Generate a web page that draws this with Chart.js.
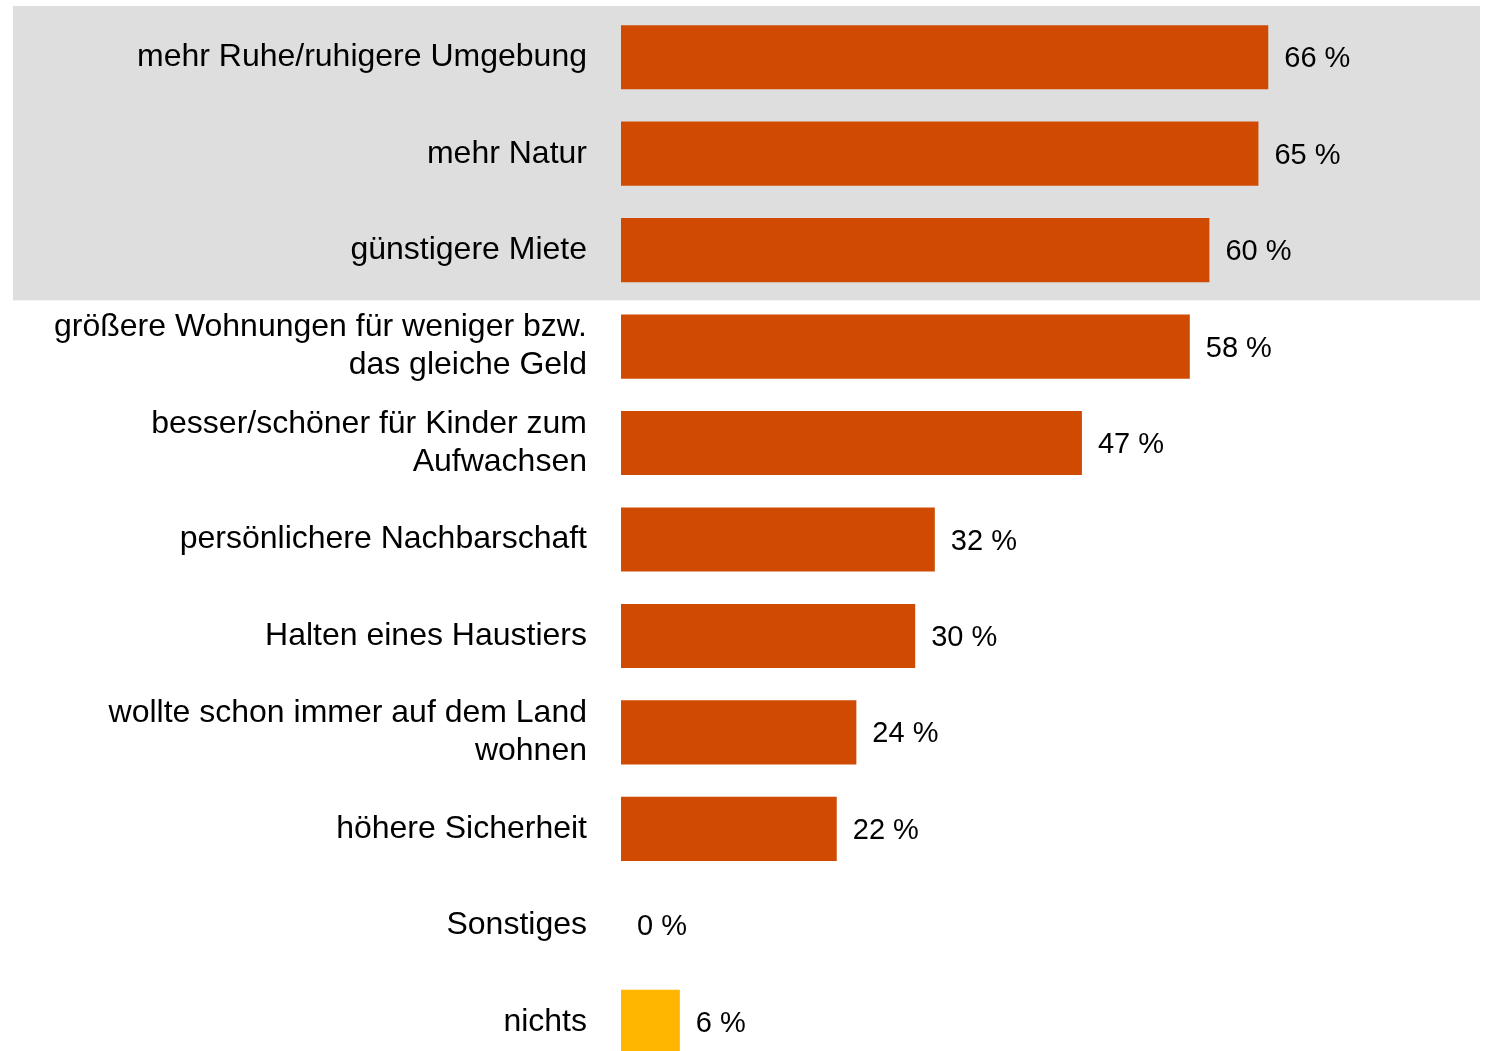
<!DOCTYPE html>
<html lang="de">
<head>
<meta charset="utf-8">
<title>Gründe für das Leben auf dem Land</title>
<script src="https://cdn.jsdelivr.net/npm/chart.js@4.4.1/dist/chart.umd.min.js"></script>
<style>
  html, body { margin: 0; padding: 0; background: #ffffff; overflow: hidden; }
  #wrap { position: relative; width: 1486px; height: 1070px; }
</style>
</head>
<body>
<div id="wrap"><canvas id="reasonsChart"></canvas></div>
<script>
// Answer categories (multi-line ones as arrays)
const categories = [
  'mehr Ruhe/ruhigere Umgebung',
  'mehr Natur',
  'günstigere Miete',
  ['größere Wohnungen für weniger bzw.', 'das gleiche Geld'],
  ['besser/schöner für Kinder zum', 'Aufwachsen'],
  'persönlichere Nachbarschaft',
  'Halten eines Haustiers',
  ['wollte schon immer auf dem Land', 'wohnen'],
  'höhere Sicherheit',
  'Sonstiges',
  'nichts'
];

// Share of respondents in percent
const shares = [66, 65, 60, 58, 47, 32, 30, 24, 22, 0, 6];

// first rows get the grey highlight band
const highlightedRows = 3;

const ORANGE = '#d04a02';
const YELLOW = '#ffb600';
const FONT = '"Liberation Sans", Arial, Helvetica, sans-serif';

const barColors = categories.map(c => (c === 'nichts' ? YELLOW : ORANGE));

// grey band behind the top rows
const highlightBand = {
  id: 'highlightBand',
  beforeDraw(chart) {
    const y = chart.scales.y;
    const step = y.getPixelForValue(1) - y.getPixelForValue(0);
    const top = y.getPixelForValue(0) - step / 2 - 3;
    const bottom = (y.getPixelForValue(highlightedRows - 1) + y.getPixelForValue(highlightedRows)) / 2 + 2;
    const ctx = chart.ctx;
    ctx.save();
    ctx.fillStyle = '#dedede';
    ctx.fillRect(13, top, 1467, bottom - top);
    ctx.restore();
  }
};

// "NN %" text to the right of every bar
const valueLabels = {
  id: 'valueLabels',
  afterDatasetsDraw(chart) {
    const ctx = chart.ctx;
    const meta = chart.getDatasetMeta(0);
    ctx.save();
    ctx.font = '29px ' + FONT;
    ctx.fillStyle = '#000000';
    ctx.textAlign = 'left';
    ctx.textBaseline = 'middle';
    meta.data.forEach((bar, i) => {
      ctx.fillText(shares[i] + ' %', bar.x + 16, bar.y + 2);
    });
    ctx.restore();
  }
};

new Chart(document.getElementById('reasonsChart'), {
  type: 'bar',
  data: {
    labels: categories,
    datasets: [{
      data: shares,
      backgroundColor: barColors,
      borderWidth: 0,
      categoryPercentage: 1,
      barPercentage: 0.665
    }]
  },
  options: {
    indexAxis: 'y',
    responsive: true,
    maintainAspectRatio: false,
    animation: false,
    layout: { padding: { top: 9, right: 2, bottom: 0, left: 0 } },
    plugins: {
      legend: { display: false },
      tooltip: { enabled: false }
    },
    scales: {
      x: {
        display: false,
        min: 0,
        max: 88
      },
      y: {
        grid: { display: false, drawTicks: false },
        border: { display: false },
        afterFit(scale) {
          // fixed label column, no extra vertical room for the tick labels
          scale.width = 621;
          scale.paddingTop = 0;
          scale.paddingBottom = 0;
        },
        ticks: {
          padding: 34,
          color: '#000000',
          font: { family: FONT, size: 32, lineHeight: 1.19 }
        }
      }
    }
  },
  plugins: [highlightBand, valueLabels]
});
</script>
</body>
</html>
